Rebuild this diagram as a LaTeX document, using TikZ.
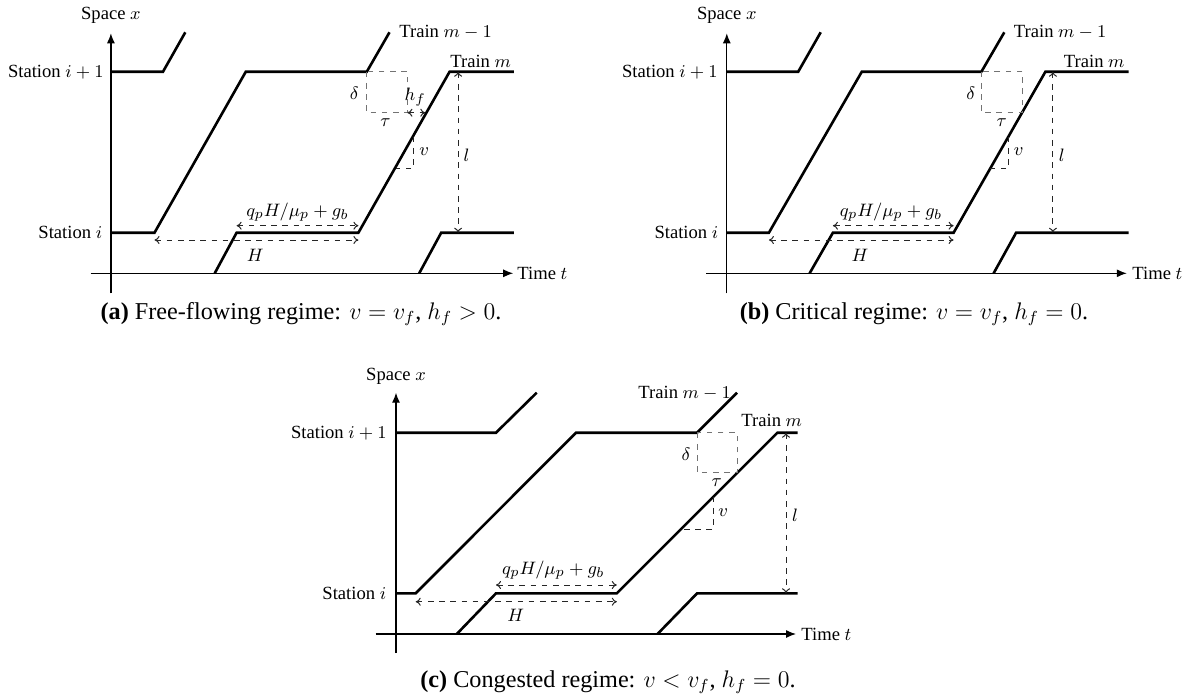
\documentclass[tikz,border=0pt]{standalone}
\usepackage[no-math]{fontspec}
\setmainfont{Liberation Serif}
\usetikzlibrary{arrows.meta}
\newcommand\figfont{\fontsize{9.3}{11}\selectfont}
\newcommand\capfont{\fontsize{12.1}{14}\selectfont}
\tikzset{
  traj/.style={line width=1.3pt},
  axis/.style={line width=0.6pt,-{Latex[length=5pt,width=4pt]}},
  dim/.style={black!85,line width=0.5pt,dash pattern=on 2.8pt off 2.8pt,{To[length=2.5pt,width=4pt]}-{To[length=2.5pt,width=4pt]}},
  guide/.style={black!55,line width=0.5pt,dash pattern=on 2.8pt off 2.8pt},
  guidek/.style={black!85,line width=0.5pt,dash pattern=on 2.8pt off 2.8pt},
  lab/.style={font=\figfont,inner sep=0.5pt},
  captext/.style={font=\capfont,inner sep=0pt}
}
\begin{document}
\begin{tikzpicture}[x=0.5pt,y=-0.5pt]
\useasboundingbox (0,0) rectangle (1197,696);
%%%%%%%%%%%%%%%% Panel (a)
\coordinate (a-xl) at (90.6,273.3); \coordinate (a-xr) at (513.2,273.3);
\coordinate (a-yb) at (110.9,293.3); \coordinate (a-yt) at (110.9,33.3);
\draw[axis] (a-xl) -- (a-xr);
\draw[axis] (a-yb) -- (a-yt);
\node[lab,anchor=west] (a-time) at (516,273.3) {Time $t$};
\node[lab] (a-space) at (110.9,15.7) {Space $x$};
\node[lab,anchor=east] (a-s2) at (105,71.7) {Station $i+1$};
\node[lab,anchor=east] (a-s1) at (103.5,232.7) {Station $i$};
% trajectories
\coordinate (a-p1) at (110.9,71.7); \coordinate (a-p2) at (163,71.7); \coordinate (a-p3) at (185.3,32.3);
\draw[traj] (a-p1) -- (a-p2) -- (a-p3);
\coordinate (a-q1) at (110.9,232.7); \coordinate (a-q2) at (154.5,232.7); \coordinate (a-q3) at (245.8,71.7);
\coordinate (a-q4) at (366.8,71.7); \coordinate (a-q5) at (389.5,32.3);
\draw[traj] (a-q1) -- (a-q2) -- (a-q3) -- (a-q4) -- (a-q5);
\coordinate (a-r1) at (214.7,273.3); \coordinate (a-r2) at (236.6,232.7); \coordinate (a-r3) at (358.4,232.7);
\coordinate (a-r4) at (449.6,71.7); \coordinate (a-r5) at (513.9,71.7);
\draw[traj] (a-r1) -- (a-r2) -- (a-r3) -- (a-r4) -- (a-r5);
\coordinate (a-u1) at (419.2,273.3); \coordinate (a-u2) at (441.2,232.7); \coordinate (a-u3) at (513.9,232.7);
\draw[traj] (a-u1) -- (a-u2) -- (a-u3);
\node[lab,anchor=west] (a-tm1) at (398,32.3) {Train $m-1$};
\node[lab,anchor=west] (a-tm) at (449,61) {Train $m$};
% annotations
\coordinate (a-bx) at (407.4,112.7);
\draw[guide] (a-q4) rectangle (a-bx);
\node[lab] (a-delta) at (354.3,93.3) {$\delta$};
\node[lab] (a-tau) at (385.4,122.7) {$\tau$};
\coordinate (a-hf) at (425.3,112.7);
\draw[dim] (a-bx) -- (a-hf);
\node[lab] (a-hfl) at (415.1,97.3) {$h_f$};
\coordinate (a-v1) at (413.1,136.7); \coordinate (a-v2) at (413.1,168.3); \coordinate (a-v3) at (395.5,168.3);
\draw[guidek] (a-v1) -- (a-v2) -- (a-v3);
\node[lab] (a-vl) at (424.3,151.7) {$v$};
\coordinate (a-l1) at (458.1,71.7); \coordinate (a-l2) at (458.1,232.7);
\draw[dim] (a-l1) -- (a-l2);
\node[lab] (a-ll) at (466.5,155) {$l$};
\coordinate (a-g1) at (236.6,225.7); \coordinate (a-g2) at (358.4,225.7);
\draw[dim] (a-g1) -- (a-g2);
\node[lab] (a-gl) at (297.5,211.7) {$q_pH/\mu_p+g_b$};
\coordinate (a-h1) at (154.5,240); \coordinate (a-h2) at (358.4,240);
\draw[dim] (a-h1) -- (a-h2);
\node[lab] (a-hl) at (255.2,255) {$H$};
\node[captext] (a-cap) at (301,314) {\textbf{(a)} Free-flowing regime: $v=v_f$, $h_f>0$.};
%%%%%%%%%%%%%%%% Panel (b)
\coordinate (b-xl) at (706.4,273.3); \coordinate (b-xr) at (1126.8,273.3);
\coordinate (b-yb) at (726.8,293.3); \coordinate (b-yt) at (726.8,33.3);
\draw[axis] (b-xl) -- (b-xr);
\draw[axis] (b-yb) -- (b-yt);
\node[lab,anchor=west] (b-time) at (1131,273.3) {Time $t$};
\node[lab] (b-space) at (726.8,15.7) {Space $x$};
\node[lab,anchor=east] (b-s2) at (719,71.7) {Station $i+1$};
\node[lab,anchor=east] (b-s1) at (719.6,232.7) {Station $i$};
\coordinate (b-p1) at (726.8,71.7); \coordinate (b-p2) at (798.2,71.7); \coordinate (b-p3) at (820.7,32.3);
\draw[traj] (b-p1) -- (b-p2) -- (b-p3);
\coordinate (b-q1) at (726.8,232.7); \coordinate (b-q2) at (768.9,232.7); \coordinate (b-q3) at (861.8,71.7);
\coordinate (b-q4) at (981.4,71.7); \coordinate (b-q5) at (1004.3,32.3);
\draw[traj] (b-q1) -- (b-q2) -- (b-q3) -- (b-q4) -- (b-q5);
\coordinate (b-r1) at (809.6,273.3); \coordinate (b-r2) at (832.9,232.7); \coordinate (b-r3) at (953.6,232.7);
\coordinate (b-r4) at (1045.4,71.7); \coordinate (b-r5) at (1128.6,71.7);
\draw[traj] (b-r1) -- (b-r2) -- (b-r3) -- (b-r4) -- (b-r5);
\coordinate (b-u1) at (993.6,273.3); \coordinate (b-u2) at (1016.1,232.7); \coordinate (b-u3) at (1128.6,232.7);
\draw[traj] (b-u1) -- (b-u2) -- (b-u3);
\node[lab,anchor=west] (b-tm1) at (1012.5,32.3) {Train $m-1$};
\node[lab,anchor=west] (b-tm) at (1062.5,61) {Train $m$};
\coordinate (b-bx) at (1022.5,112.7);
\draw[guide] (b-q4) rectangle (b-bx);
\node[lab] (b-delta) at (970.7,93.3) {$\delta$};
\node[lab] (b-tau) at (1001.8,122.7) {$\tau$};
\coordinate (b-v1) at (1008.2,136.7); \coordinate (b-v2) at (1008.2,168.3); \coordinate (b-v3) at (990,168.3);
\draw[guidek] (b-v1) -- (b-v2) -- (b-v3);
\node[lab] (b-vl) at (1018.6,151.7) {$v$};
\coordinate (b-l1) at (1052.9,71.7); \coordinate (b-l2) at (1052.9,232.7);
\draw[dim] (b-l1) -- (b-l2);
\node[lab] (b-ll) at (1061.8,155) {$l$};
\coordinate (b-g1) at (832.9,225.7); \coordinate (b-g2) at (953.6,225.7);
\draw[dim] (b-g1) -- (b-g2);
\node[lab] (b-gl) at (891,211.7) {$q_pH/\mu_p+g_b$};
\coordinate (b-h1) at (768.9,240); \coordinate (b-h2) at (953.6,240);
\draw[dim] (b-h1) -- (b-h2);
\node[lab] (b-hl) at (860,255) {$H$};
\node[captext] (b-cap) at (914,314) {\textbf{(b)} Critical regime: $v=v_f$, $h_f=0$.};
%%%%%%%%%%%%%%%% Panel (c)
\coordinate (c-xl) at (375.7,634); \coordinate (c-xr) at (796,634);
\coordinate (c-yb) at (396,653); \coordinate (c-yt) at (396,392.7);
\draw[axis] (c-xl) -- (c-xr);
\draw[axis] (c-yb) -- (c-yt);
\node[lab,anchor=west] (c-time) at (800,634) {Time $t$};
\node[lab] (c-space) at (396,376.7) {Space $x$};
\node[lab,anchor=east] (c-s2) at (388,432.7) {Station $i+1$};
\node[lab,anchor=east] (c-s1) at (387.5,593.3) {Station $i$};
\coordinate (c-p1) at (396,432.7); \coordinate (c-p2) at (496,432.7); \coordinate (c-p3) at (536.7,392.7);
\draw[traj] (c-p1) -- (c-p2) -- (c-p3);
\coordinate (c-q1) at (396,593.3); \coordinate (c-q2) at (415.7,593.3); \coordinate (c-q3) at (576,432.7);
\coordinate (c-q4) at (697,432.7); \coordinate (c-q5) at (737,392.7);
\draw[traj] (c-q1) -- (c-q2) -- (c-q3) -- (c-q4) -- (c-q5);
\coordinate (c-r1) at (456.8,634); \coordinate (c-r2) at (496,593.3); \coordinate (c-r3) at (616.8,593.3);
\coordinate (c-r4) at (777.4,432.7); \coordinate (c-r5) at (797.5,432.7);
\draw[traj] (c-r1) -- (c-r2) -- (c-r3) -- (c-r4) -- (c-r5);
\coordinate (c-u1) at (657.5,634); \coordinate (c-u2) at (697.1,593.3); \coordinate (c-u3) at (797.5,593.3);
\draw[traj] (c-u1) -- (c-u2) -- (c-u3);
\node[lab,anchor=west] (c-tm1) at (637,393.3) {Train $m-1$};
\node[lab,anchor=west] (c-tm) at (740,420) {Train $m$};
\coordinate (c-bx) at (737.4,472.7);
\draw[guide] (c-q4) rectangle (c-bx);
\node[lab] (c-delta) at (686,454) {$\delta$};
\node[lab] (c-tau) at (716.7,482.7) {$\tau$};
\coordinate (c-v1) at (713.3,496.7); \coordinate (c-v2) at (713.3,529); \coordinate (c-v3) at (680.7,529);
\draw[guidek] (c-v1) -- (c-v2) -- (c-v3);
\node[lab] (c-vl) at (723.3,512.3) {$v$};
\coordinate (c-l1) at (786,432.7); \coordinate (c-l2) at (786,593.3);
\draw[dim] (c-l1) -- (c-l2);
\node[lab] (c-ll) at (795,515.7) {$l$};
\coordinate (c-g1) at (496,585); \coordinate (c-g2) at (616.8,585);
\draw[dim] (c-g1) -- (c-g2);
\node[lab] (c-gl) at (553.2,570) {$q_pH/\mu_p+g_b$};
\coordinate (c-h1) at (415.7,601.7); \coordinate (c-h2) at (616.8,601.7);
\draw[dim] (c-h1) -- (c-h2);
\node[lab] (c-hl) at (515.7,615) {$H$};
\node[captext] (c-cap) at (608,682) {\textbf{(c)} Congested regime: $v<v_f$, $h_f=0$.};
\end{tikzpicture}
\end{document}
